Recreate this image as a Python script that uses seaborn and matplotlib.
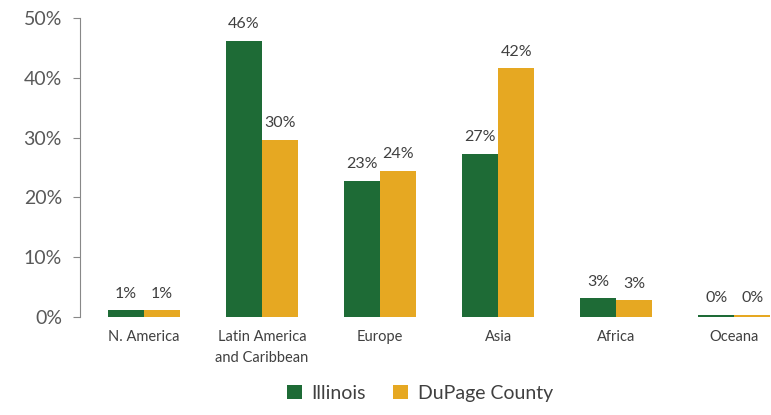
import pandas as pd
import matplotlib.pyplot as plt
import seaborn as sns

regions = ["N. America", "Latin America\nand Caribbean", "Europe", "Asia", "Africa", "Oceana"]
illinois = [1.1, 46.2, 22.8, 27.3, 3.1, 0.3]
dupage = [1.1, 29.6, 24.4, 41.6, 2.8, 0.3]
illinois_labels = ["1%", "46%", "23%", "27%", "3%", "0%"]
dupage_labels = ["1%", "30%", "24%", "42%", "3%", "0%"]
series = ["Illinois", "DuPage County"]
colors = ["#1E6B36", "#E6A822"]

df = pd.DataFrame({
    "region": regions * 2,
    "value": illinois + dupage,
    "series": [series[0]] * 6 + [series[1]] * 6,
})

sns.set_style("white")
plt.rcParams["font.family"] = ["Lato", "DejaVu Sans"]

fig = plt.figure(figsize=(7.71, 4.15), dpi=100)
ax = fig.add_axes([80 / 771, 98 / 415, 691 / 771, 299 / 415])

sns.barplot(data=df, x="region", y="value", hue="series", palette=colors,
            width=0.61, gap=0, saturation=1, linewidth=0, ax=ax, legend=True)

for cont, labels in zip(ax.containers, [illinois_labels, dupage_labels]):
    ax.bar_label(cont, labels=labels, padding=7, fontsize=11.5, color="#404040")

ax.set_xlim(-0.54, 5.31)
ax.set_ylim(0, 50)
ax.set_yticks(range(0, 51, 10))
ax.set_yticklabels([f"{v}%" for v in range(0, 51, 10)], fontsize=14, color="#595959")
ax.tick_params(axis="y", left=True, length=5, color="#888888", pad=8)
ax.tick_params(axis="x", bottom=False, labelsize=10.5, colors="#404040", pad=6)
for lbl in ax.get_xticklabels():
    lbl.set_linespacing(1.6)
ax.set_xlabel("")
ax.set_ylabel("")
for side in ["top", "right", "bottom"]:
    ax.spines[side].set_visible(False)
ax.spines["left"].set_color("#888888")

ax.legend(loc="lower center", bbox_to_anchor=(420 / 771, -0.01), bbox_transform=fig.transFigure,
          ncol=2, frameon=False, fontsize=14, handlelength=0.75, handleheight=0.75,
          handletextpad=0.5, columnspacing=1.4, labelcolor="#404040")

fig.savefig("out.png", dpi=100)
